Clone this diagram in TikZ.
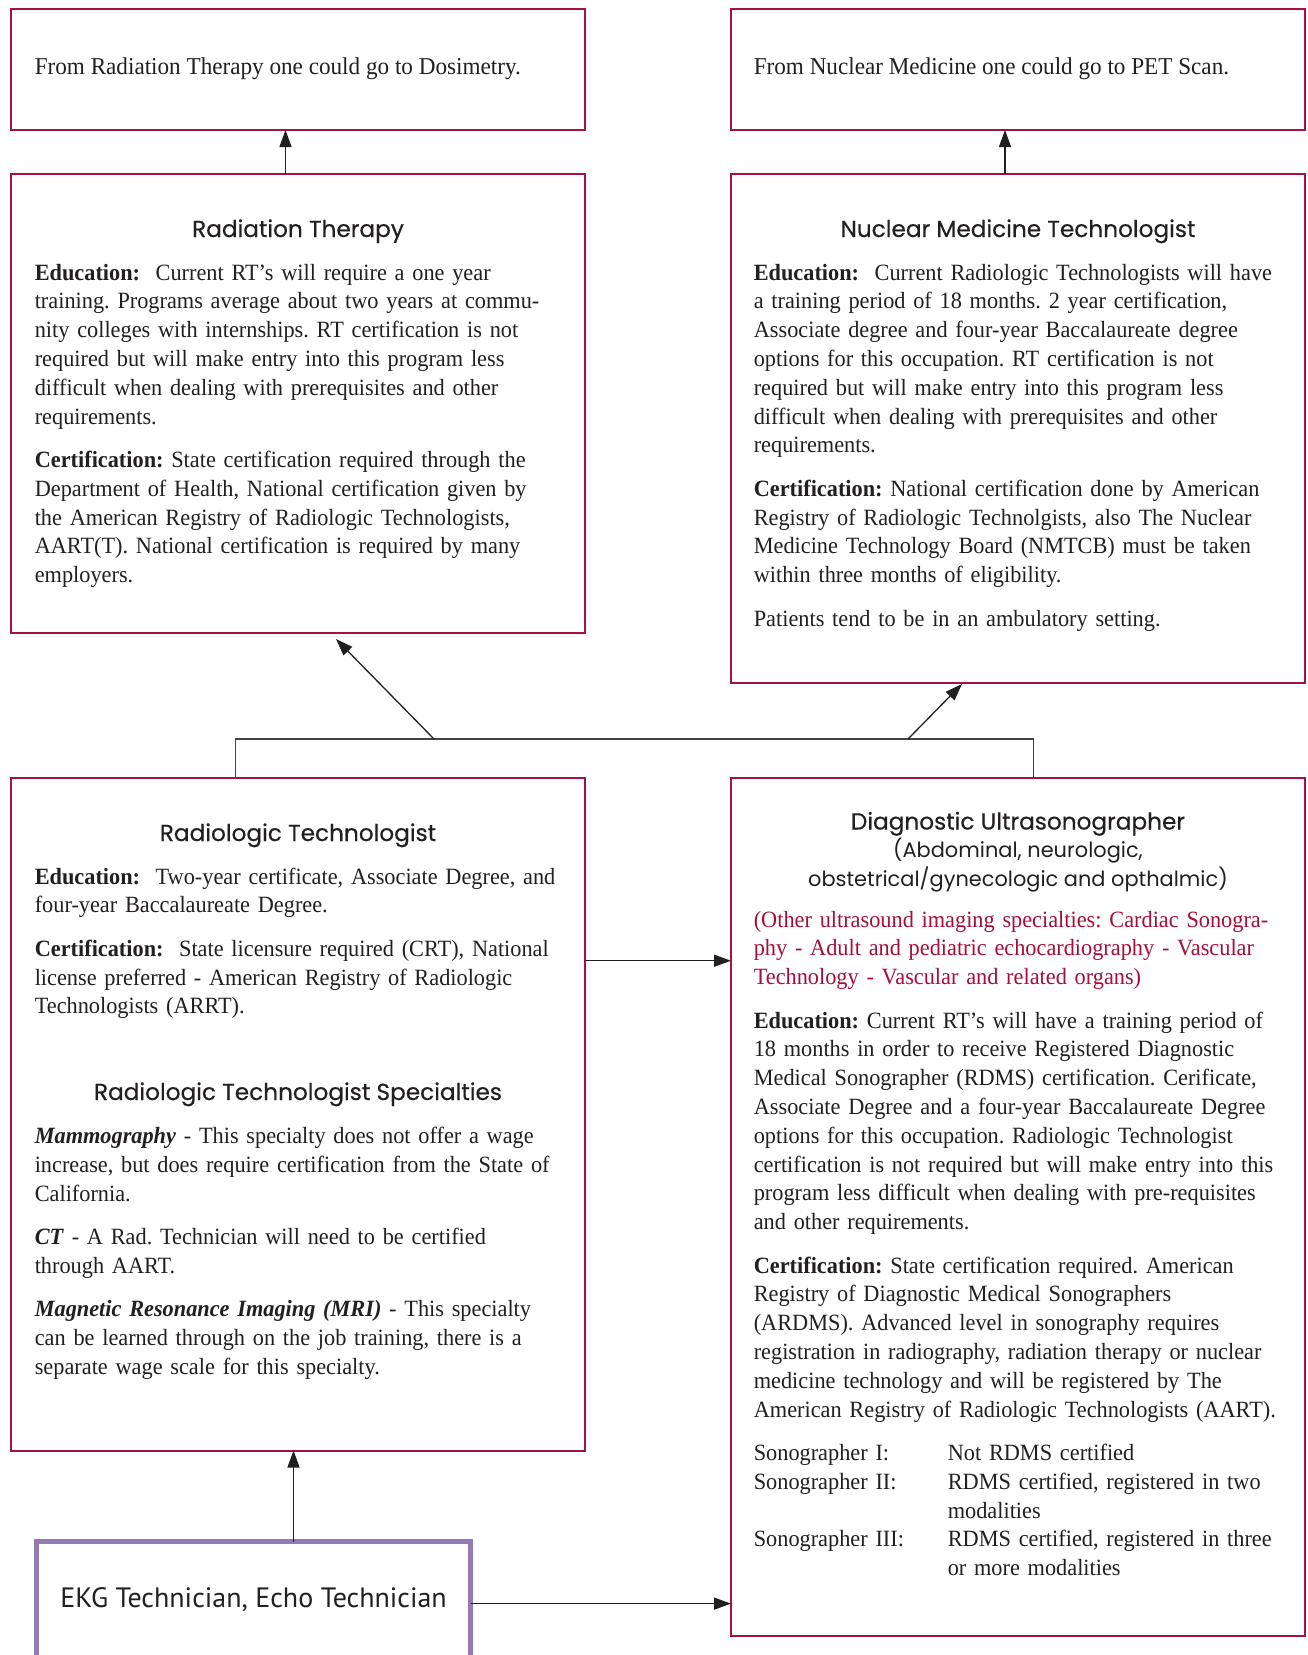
\documentclass[tikz,border=0pt]{standalone}
\usepackage{fontspec}
\setmainfont{Liberation Serif}[FakeStretch=0.957]
\newfontfamily\headfont{Poppins}[FakeBold=0.4]
\newfontfamily\subfont{Poppins}
\newfontfamily\ekgfont{PT Sans}
\usetikzlibrary{arrows.meta}

\definecolor{boxred}{RGB}{168,16,63}
\definecolor{textred}{RGB}{165,14,58}
\definecolor{ekgpurple}{RGB}{149,121,180}
\definecolor{ink}{RGB}{35,31,32}

\frenchspacing
\newcommand{\bodytext}{\frenchspacing\fontsize{23.3bp}{28.8bp}\selectfont}
\newcommand{\toptext}{\frenchspacing\fontsize{24.2bp}{28.8bp}\selectfont}
\newcommand{\headtext}{\headfont\fontsize{23.2bp}{28.5bp}\selectfont}
\newcommand{\subtext}{\subfont\fontsize{20.9bp}{28.5bp}\selectfont}
\newcommand{\pgap}{\par\vspace{14.6bp}}
\newcommand{\lbl}[1]{\makebox[194bp][l]{#1}}

\begin{document}
\begin{tikzpicture}[x=1bp, y=-1bp,
  rbox/.style={draw=boxred, line width=2bp, rectangle, inner sep=0pt, outer sep=0pt, anchor=north west},
  pbox/.style={draw=ekgpurple, line width=5bp, rectangle, inner sep=0pt, outer sep=0pt, anchor=north west},
  body/.style={anchor=base west, inner sep=0pt, outer sep=0pt, text width=548bp, align=left, font=\bodytext, text=ink},
  line/.style={anchor=base west, inner sep=0pt, outer sep=0pt, font=\toptext, text=ink},
  heading/.style={anchor=base, inner sep=0pt, outer sep=0pt, font=\headtext, text=ink},
  subhead/.style={anchor=base, inner sep=0pt, outer sep=0pt, font=\subtext, text=ink},
  arr/.style={draw=ink, line width=1.3bp, -{Triangle[length=17bp,width=12bp]}},
  link/.style={draw=ink!85, line width=1.2bp}]

\useasboundingbox (0,0) rectangle (1308,1655);
\clip (0,0) rectangle (1308,1655);
\fill[white] (0,0) rectangle (1308,1655);

% boxes
\node[rbox, minimum width=574bp, minimum height=121bp] (dos) at (11,9) {};
\node[rbox, minimum width=574bp, minimum height=121bp] (pet) at (731,9) {};
\node[rbox, minimum width=574bp, minimum height=459bp] (rt) at (11,174) {};
\node[rbox, minimum width=574bp, minimum height=509bp] (nm) at (731,174) {};
\node[rbox, minimum width=574bp, minimum height=672.5bp] (radtech) at (11,778) {};
\node[rbox, minimum width=574bp, minimum height=858bp] (du) at (731,778) {};
\node[pbox, minimum width=434bp, minimum height=140bp] (ekg) at (36.5,1541.8) {};

% top boxes
\node[line] (dostext) at (34.8,74.5) {From Radiation Therapy one could go to Dosimetry.};
\node[line] (pettext) at (753.8,74.5) {From Nuclear Medicine one could go to PET Scan.};

% Radiation Therapy
\node[heading] (rthead) at (298,237) {Radiation Therapy};
\node[body] (rtbody) at (34.8,280) {%
\textbf{Education:}\ \ Current RT’s will require a one year\\
training. Programs average about two years at commu-\\
nity colleges with internships. RT certification is not\\
required but will make entry into this program less\\
difficult when dealing with prerequisites and other\\
requirements.\pgap
\textbf{Certification:} State certification required through the\\
Department of Health, National certification given by\\
the American Registry of Radiologic Technologists,\\
AART(T). National certification is required by many\\
employers.};

% Nuclear Medicine Technologist
\node[heading] (nmhead) at (1018,237) {Nuclear Medicine Technologist};
\node[body] (nmbody) at (753.8,280) {%
\textbf{Education:}\ \ Current Radiologic Technologists will have\\
a training period of 18 months. 2 year certification,\\
Associate degree and four-year Baccalaureate degree\\
options for this occupation. RT certification is not\\
required but will make entry into this program less\\
difficult when dealing with prerequisites and other\\
requirements.\pgap
\textbf{Certification:} National certification done by American\\
Registry of Radiologic Technolgists, also The Nuclear\\
Medicine Technology Board (NMTCB) must be taken\\
within three months of eligibility.\pgap
Patients tend to be in an ambulatory setting.};

% Radiologic Technologist
\node[heading] (radhead) at (298,841) {Radiologic Technologist};
\node[body] (radbody) at (34.8,884) {%
\textbf{Education:}\ \ Two-year certificate, Associate Degree, and\\
four-year Baccalaureate Degree.\pgap
\textbf{Certification:}\ \ State licensure required (CRT), National\\
license preferred - American Registry of Radiologic\\
Technologists (ARRT).};
\node[heading] (spechead) at (298,1100) {Radiologic Technologist Specialties};
\node[body] (specbody) at (34.8,1143.6) {%
\textbf{\textit{Mammography}} - This specialty does not offer a wage\\
increase, but does require certification from the State of\\
California.\pgap
\textbf{\textit{CT}} - A Rad. Technician will need to be certified\\
through AART.\pgap
\textbf{\textit{Magnetic Resonance Imaging (MRI)}} - This specialty\\
can be learned through on the job training, there is a\\
separate wage scale for this specialty.};

% Diagnostic Ultrasonographer
\node[heading] (duhead) at (1018,829.5) {Diagnostic Ultrasonographer};
\node[subhead] (dusub1) at (1018,857.5) {(Abdominal, neurologic,};
\node[subhead] (dusub2) at (1018,886) {obstetrical/gynecologic and opthalmic)};
\node[body] (dubody) at (753.8,927) {%
{\color{textred}(Other ultrasound imaging specialties: Cardiac Sonogra-\\
phy - Adult and pediatric echocardiography - Vascular\\
Technology - Vascular and related organs)}\pgap
\textbf{Education:} Current RT’s will have a training period of\\
18 months in order to receive Registered Diagnostic\\
Medical Sonographer (RDMS) certification. Cerificate,\\
Associate Degree and a four-year Baccalaureate Degree\\
options for this occupation. Radiologic Technologist\\
certification is not required but will make entry into this\\
program less difficult when dealing with pre-requisites\\
and other requirements.\pgap
\textbf{Certification:} State certification required. American\\
Registry of Diagnostic Medical Sonographers\\
(ARDMS). Advanced level in sonography requires\\
registration in radiography, radiation therapy or nuclear\\
medicine technology and will be registered by The\\
American Registry of Radiologic Technologists (AART).\pgap
\lbl{Sonographer I:}Not RDMS certified\\
\lbl{Sonographer II:}RDMS certified, registered in two\\
\lbl{}modalities\\
\lbl{Sonographer III:}RDMS certified, registered in three\\
\lbl{}or more modalities};

% EKG / Echo
\node[anchor=base, inner sep=0pt, font=\ekgfont\fontsize{28bp}{32bp}\selectfont, text=ink] (ekgtext) at (253.5,1607) {EKG Technician, Echo Technician};

% connector points
\coordinate (xa) at (285.5,0);
\coordinate (xb) at (1005,0);
\coordinate (xc) at (293.5,0);
\coordinate (bl) at (235.5,739);
\coordinate (br) at (1033.5,739);
\coordinate (d1s) at (434,739);
\coordinate (d1e) at (336,639);
\coordinate (d2s) at (908,739);
\coordinate (d2e) at (962,684);
\coordinate (ya) at (0,960.7);
\coordinate (yb) at (0,1603.6);

% connectors
\draw[arr] (rt.north -| xa) -- (dos.south -| xa);
\draw[arr] (nm.north -| xb) -- (pet.south -| xb);
\draw[link] (radtech.north -| bl) -- (bl) -- (br) -- (du.north -| br);
\draw[arr] (d1s) -- (d1e);
\draw[arr] (d2s) -- (d2e);
\draw[arr] (radtech.east |- ya) -- (du.west |- ya);
\draw[arr] (ekg.north -| xc) -- (radtech.south -| xc);
\draw[arr] (ekg.east |- yb) -- (du.west |- yb);
\end{tikzpicture}
\end{document}
